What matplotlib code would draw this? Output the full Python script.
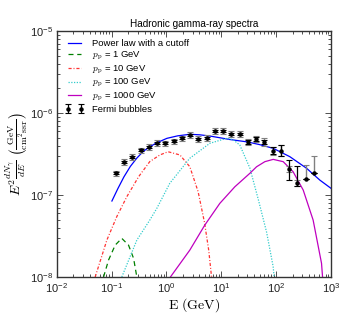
import matplotlib
matplotlib.use("Agg")
import matplotlib.pyplot as plt

plt.rcParams['mathtext.fontset'] = 'cm'
plt.rcParams['font.family'] = ['Liberation Sans', 'DejaVu Sans']

# ---- data (E in GeV, E^2 dN/dE in GeV cm^-2 s^-1 sr^-1) ----
pl_E = [0.101, 0.130, 0.167, 0.219, 0.288, 0.378, 0.497, 0.668, 1.02, 1.61, 2.67,
        4.07, 6.19, 14.4, 30.6, 50.6, 88.7, 179, 360, 630, 1000]
pl_F = [8.45e-8, 1.20e-7, 1.66e-7, 2.23e-7, 2.82e-7, 3.41e-7, 3.88e-7, 4.34e-7, 4.91e-7,
        5.27e-7, 5.50e-7, 5.42e-7, 5.24e-7, 4.75e-7, 4.43e-7, 4.11e-7, 3.71e-7, 2.93e-7,
        2.12e-7, 1.52e-7, 1.21e-7]

p1_E = [0.0711, 0.0877, 0.116, 0.153, 0.203, 0.251, 0.288]
p1_F = [1.0e-8, 1.61e-8, 2.45e-8, 2.96e-8, 2.45e-8, 1.69e-8, 1.0e-8]

p10_E = [0.050, 0.0817, 0.124, 0.189, 0.310, 0.497, 0.759, 1.07, 1.76, 2.67, 3.78, 4.95, 5.90, 6.65]
p10_F = [1.0e-8, 2.82e-8, 5.45e-8, 9.53e-8, 1.67e-7, 2.56e-7, 3.08e-7, 3.37e-7, 3.08e-7,
         2.21e-7, 1.10e-7, 4.60e-8, 2.13e-8, 1.0e-8]

p100_E = [0.153, 0.288, 0.497, 0.668, 1.15, 2.67, 6.19, 12.5, 16.3, 21.8, 33.3, 47.2, 67.1, 88.5, 92.3]
p100_F = [1.0e-8, 2.82e-8, 4.95e-8, 6.89e-8, 1.39e-7, 2.81e-7, 4.27e-7, 4.91e-7, 4.75e-7,
          4.07e-7, 2.13e-7, 8.93e-8, 3.54e-8, 1.34e-8, 1.0e-8]

p1000_E = [1.18, 2.67, 5.02, 9.42, 17.7, 33.3, 44.1, 62.5, 88.7, 135, 205, 313, 475, 676, 706]
p1000_F = [1.0e-8, 2.13e-8, 4.31e-8, 7.91e-8, 1.26e-7, 1.84e-7, 2.21e-7, 2.55e-7, 2.72e-7,
           2.55e-7, 1.92e-7, 1.15e-7, 4.95e-8, 1.47e-8, 1.0e-8]

fermi_E = [0.119, 0.169, 0.239, 0.338, 0.478, 0.676, 0.957, 1.35, 1.91, 2.71, 3.83, 5.42,
           7.66, 10.8, 15.3, 21.7, 30.7, 43.4, 61.4, 86.8, 123, 174, 245, 347, 491]
fermi_F = [1.84e-7, 2.55e-7, 2.91e-7, 3.51e-7, 3.88e-7, 4.31e-7, 4.27e-7, 4.52e-7, 4.91e-7,
           5.39e-7, 4.82e-7, 4.96e-7, 6.03e-7, 6.03e-7, 5.55e-7, 5.55e-7, 4.43e-7, 4.82e-7,
           4.43e-7, 3.47e-7, 3.47e-7, 2.06e-7, 1.40e-7, 1.57e-7, 1.83e-7]
stat_lo = [0.06e-7, 0.08e-7, 0.09e-7, 0.10e-7, 0.11e-7, 0.12e-7, 0.12e-7, 0.13e-7, 0.14e-7,
           0.15e-7, 0.14e-7, 0.15e-7, 0.18e-7, 0.18e-7, 0.2e-7, 0.2e-7, 0.22e-7, 0.25e-7,
           0.3e-7, 0.35e-7, 0.49e-7, 0.55e-7, 0.11e-7, 0.0, 0.0]
stat_hi = [0.06e-7, 0.08e-7, 0.09e-7, 0.10e-7, 0.11e-7, 0.12e-7, 0.12e-7, 0.13e-7, 0.14e-7,
           0.15e-7, 0.14e-7, 0.15e-7, 0.18e-7, 0.18e-7, 0.2e-7, 0.2e-7, 0.22e-7, 0.25e-7,
           0.3e-7, 0.38e-7, 0.55e-7, 0.59e-7, 0.85e-7, 0.0, 0.0]
sys_lo = [0.14e-7, 0.2e-7, 0.23e-7, 0.28e-7, 0.3e-7, 0.34e-7, 0.34e-7, 0.36e-7, 0.39e-7,
          0.43e-7, 0.38e-7, 0.4e-7, 0.48e-7, 0.48e-7, 0.44e-7, 0.44e-7, 0.35e-7, 0.39e-7,
          0.49e-7, 0.38e-7, 0.49e-7, 0.16e-7, 0.11e-7, 0.0, 0.0]
sys_hi = [0.14e-7, 0.2e-7, 0.23e-7, 0.28e-7, 0.3e-7, 0.34e-7, 0.34e-7, 0.36e-7, 0.39e-7,
          0.43e-7, 0.38e-7, 0.4e-7, 0.48e-7, 0.48e-7, 0.44e-7, 0.44e-7, 0.35e-7, 0.39e-7,
          0.49e-7, 0.38e-7, 0.55e-7, 0.17e-7, 0.12e-7, 0.75e-7, 1.15e-7]

labels = ['Power law with a cutoff', r'$p_{\rm p}$ = 1 GeV', r'$p_{\rm p}$ = 10 GeV',
          r'$p_{\rm p}$ = 100 GeV', r'$p_{\rm p}$ = 1000 GeV', 'Fermi bubbles']

fig = plt.figure(figsize=(3.6, 3.15), dpi=100)
ax = fig.add_axes([0.158, 0.1206, 0.761, 0.781])
ax.set_xscale('log')
ax.set_yscale('log')

h0, = ax.plot(pl_E, pl_F, color='#0000ff', lw=0.9)
h1, = ax.plot(p1_E, p1_F, color='#008000', lw=0.9, ls=(0, (4, 3)))
h2, = ax.plot(p10_E, p10_F, color='#ff3333', lw=0.9, ls=(0, (2.5, 1.5, 0.8, 1.5)))
h3, = ax.plot(p100_E, p100_F, color='#33cccc', lw=0.9, ls=(0, (1, 1.2)))
h4, = ax.plot(p1000_E, p1000_F, color='#bf00bf', lw=0.9)

ax.errorbar(fermi_E, fermi_F, yerr=[sys_lo, sys_hi], fmt='none', ecolor='#808080',
            elinewidth=1.0, capsize=2, capthick=0.8)
eb = ax.errorbar(fermi_E, fermi_F, yerr=[stat_lo, stat_hi], fmt='o', color='black',
                 ms=2.2, elinewidth=0.9, capsize=2, capthick=0.8)

ax.set_xlim(1e-2, 1e3)
ax.set_ylim(1e-8, 1e-5)

ax.tick_params(which='both', direction='in', top=True, right=True, width=0.6,
               colors='#333333', labelcolor='#222222', labelsize=8, pad=3)
ax.tick_params(which='major', length=4)
ax.tick_params(which='minor', length=2)
for s in ax.spines.values():
    s.set_linewidth(1.0)
    s.set_color('#333333')

ax.set_title('Hadronic gamma-ray spectra', fontsize=7.2, pad=3)
ax.set_xlabel(r'$\mathrm{E\ (GeV)}$', fontsize=10, labelpad=1)
ax.set_ylabel(r'$E^2\frac{dN_\gamma}{dE}\ \left(\frac{\mathrm{GeV}}{\mathrm{cm^2 s sr}}\right)$',
              fontsize=10, labelpad=0)

ax.legend([h0, h1, h2, h3, h4, eb], labels, loc='upper left', frameon=False,
          fontsize=6.8, numpoints=2, handlelength=2.0, handletextpad=0.9,
          labelspacing=0.17, borderaxespad=0.45)

fig.savefig('out.png', dpi=100)
